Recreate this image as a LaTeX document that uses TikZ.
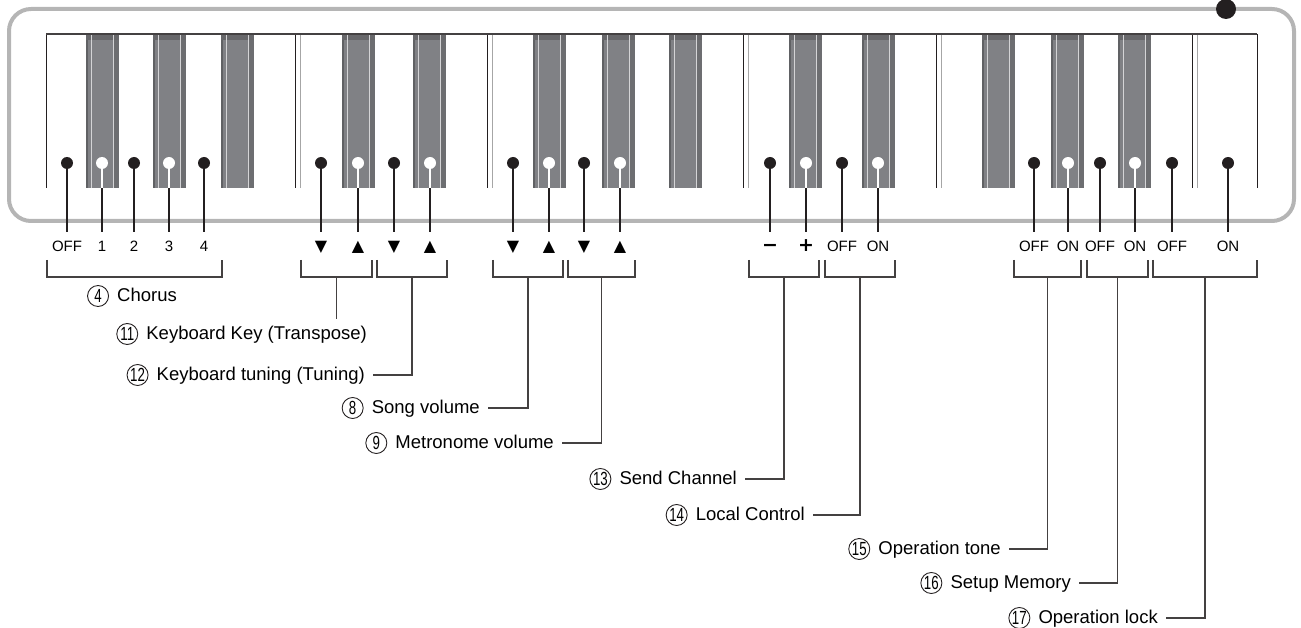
\documentclass[tikz,border=0pt]{standalone}
\usepackage{fontspec}
\setmainfont{Liberation Sans}
\newfontfamily\symfont{DejaVu Sans}
\newfontfamily\numfont{Liberation Sans}[FakeStretch=0.7]
\usetikzlibrary{positioning}
\definecolor{framegray}{HTML}{B5B5B5}
\definecolor{keygray}{HTML}{808185}
\definecolor{keylight}{HTML}{D4D4D6}
\definecolor{inkdark}{HTML}{231F20}

\begin{document}
\begin{tikzpicture}[x=1pt, y=-1pt,
  keyline/.style={draw=inkdark, line width=0.8pt},
  pin/.style={line width=2.6pt, inkdark, shorten >=8.75pt},
  pindot/.style={circle, fill=inkdark, minimum size=12pt, inner sep=0pt},
  pindotw/.style={circle, fill=white, minimum size=12pt, inner sep=0pt},
  keylbl/.style={font=\fontsize{15}{15}\selectfont, inner sep=0pt, text height=10.5pt, text depth=0pt},
  symlbl/.style={font=\symfont\fontsize{16}{16}\selectfont, inner sep=0pt, text height=10.5pt, text depth=0pt},
  signlbl/.style={font=\symfont\bfseries\fontsize{19}{19}\selectfont, inner sep=0pt, text height=10.5pt, text depth=0pt},
  brk/.style={draw=inkdark!85, line width=1.2pt},
  lbl/.style={font=\fontsize{18.5}{20}\selectfont, text height=13.3pt, text depth=2pt, inner xsep=8pt, inner ysep=0pt},
  cnum/.style={circle, draw=inkdark, line width=0.9pt, minimum size=21pt, inner sep=0pt, font=\numfont\fontsize{19}{19}\selectfont}
]
  \useasboundingbox (0,0) rectangle (1301,628);

  % case
  \draw[framegray, line width=4pt, rounded corners=22pt] (9,9) rectangle (1294,221);
  \node[circle, fill=inkdark, minimum size=20pt, inner sep=0pt] (power) at (1226,9) {};

  % black keys
  \foreach \k in {86,153,221,342,413,533,602,669,789,862,982,1051,1118} {
    \fill[keygray] (\k,35) rectangle ++(33,153);
    \fill[keygray!75!black] (\k,35) rectangle ++(1.5,153);
    \fill[keygray!85!black] (\k+28,35) rectangle ++(5,153);
    \fill[keygray!80!black] (\k,35) rectangle ++(33,5);
    \draw[keylight, line width=0.9pt] (\k+5,35) -- ++(0,153);
    \draw[keylight, line width=0.9pt] (\k+27,35) -- ++(0,153);
  }
  % white key edges
  \draw[keyline] (46,34) -- (46,188);
  \draw[keyline] (1257,34) -- (1257,188);
  \foreach \d in {295,487,743,936,1192} {
    \draw[keyline] (\d,34) -- ++(0,154);
    \draw[gray!70, line width=0.8pt] (\d+5,34) -- ++(0,154);
  }
  \draw[inkdark!85, line width=2pt] (46,34) -- (1257,34);

  % setting labels
  \foreach \x/\t in {67/OFF,102/1,134/2,169/3,204/4,842/OFF,878/ON,1034/OFF,1068/ON,1100/OFF,1135/ON,1172/OFF,1228/ON}
    \node[keylbl] (t\x) at (\x,246) {\t};
  \foreach \x/\t in {321/▼,358/▲,394/▼,430/▲,513/▼,549/▲,584/▼,620/▲}
    \node[symlbl] (t\x) at (\x,246) {\t};
  \node[signlbl] (t770) at (770,246) {−};
  \node[signlbl] (t806) at (806,246) {+};

  % pins on white keys
  \foreach \x in {67,134,204,321,394,513,584,770,842,1034,1100,1172,1228} {
    \node[pindot] (p\x) at (\x,163) {};
    \draw[pin] (p\x.center) -- (t\x.north);
  }
  % pins on black keys
  \foreach \x in {102,169,358,430,549,620,806,878,1068,1135} {
    \draw[pin] (\x,163) -- (t\x.north);
    \draw[pin, white, shorten >=0pt] (\x,163) -- (\x,188);
    \node[pindotw] (p\x) at (\x,163) {};
  }

  % brackets
  \foreach \a/\b/\n in {47/222/chorus,301/372/trans,377/447/tune,493/563/song,568/635/metro,749/819/send,825/895/local,1014/1081/tone,1087/1148/setup,1153/1257/lock} {
    \draw[brk] (\a,260) |- (\b,277) -- (\b,260);
    \coordinate (b\n) at ({(\a+\b)/2},277);
  }

  % functions
  \node[lbl, anchor=west] (lchorus) at (109,296) {Chorus};
  \node[cnum, left=0pt of lchorus] (nchorus) {4};
  \node[lbl, anchor=east] (ltrans) at (375,334) {Keyboard Key (Transpose)};
  \node[cnum, left=0pt of ltrans] (ntrans) {11};
  \draw[brk, shorten >=7pt] (btrans) -- (btrans |- ltrans.north);

  \node[lbl, anchor=east] (ltune) at (373,375) {Keyboard tuning (Tuning)};
  \node[cnum, left=0pt of ltune] (ntune) {12};
  \draw[brk] (ltune.east) -| (btune);
  \node[lbl, anchor=east] (lsong) at (488,408) {Song volume};
  \node[cnum, left=0pt of lsong] (nsong) {8};
  \draw[brk] (lsong.east) -| (bsong);
  \node[lbl, anchor=east] (lmetro) at (562,443) {Metronome volume};
  \node[cnum, left=0pt of lmetro] (nmetro) {9};
  \draw[brk] (lmetro.east) -| (bmetro);
  \node[lbl, anchor=east] (lsend) at (745,479) {Send Channel};
  \node[cnum, left=0pt of lsend] (nsend) {13};
  \draw[brk] (lsend.east) -| (bsend);
  \node[lbl, anchor=east] (llocal) at (813,515) {Local Control};
  \node[cnum, left=0pt of llocal] (nlocal) {14};
  \draw[brk] (llocal.east) -| (blocal);
  \node[lbl, anchor=east] (ltone) at (1009,549) {Operation tone};
  \node[cnum, left=0pt of ltone] (ntone) {15};
  \draw[brk] (ltone.east) -| (btone);
  \node[lbl, anchor=east] (lsetup) at (1079,583) {Setup Memory};
  \node[cnum, left=0pt of lsetup] (nsetup) {16};
  \draw[brk] (lsetup.east) -| (bsetup);
  \node[lbl, anchor=east] (llock) at (1166,618) {Operation lock};
  \node[cnum, left=0pt of llock] (nlock) {17};
  \draw[brk] (llock.east) -| (block);
\end{tikzpicture}
\end{document}
